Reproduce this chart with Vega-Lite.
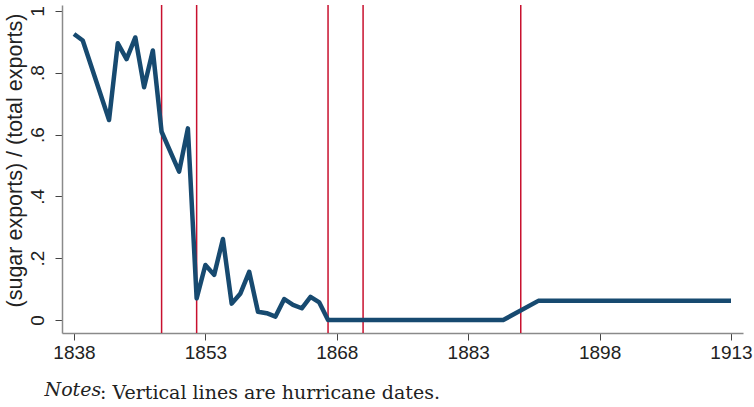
{
  "$schema": "https://vega.github.io/schema/vega-lite/v6.json",
  "width": 681,
  "height": 328,
  "autosize": "none",
  "padding": {"left": 62, "top": 5, "right": 11, "bottom": 74},
  "background": "white",
  "config": {"view": {"stroke": null}},
  "title": {
    "text": ": Vertical lines are hurricane dates.",
    "orient": "bottom",
    "anchor": "start",
    "frame": "group",
    "font": "DejaVu Serif",
    "fontSize": 19,
    "fontWeight": "normal",
    "color": "#222222",
    "baseline": "alphabetic",
    "offset": 0,
    "dx": 38
  },
  "datasets": {
    "series": [
      {"year": 1838, "share": 0.925},
      {"year": 1839, "share": 0.904},
      {"year": 1842, "share": 0.647},
      {"year": 1843, "share": 0.895},
      {"year": 1844, "share": 0.844},
      {"year": 1845, "share": 0.914},
      {"year": 1846, "share": 0.753},
      {"year": 1847, "share": 0.872},
      {"year": 1848, "share": 0.609},
      {"year": 1850, "share": 0.48},
      {"year": 1851, "share": 0.62},
      {"year": 1852, "share": 0.07},
      {"year": 1853, "share": 0.178},
      {"year": 1854, "share": 0.146},
      {"year": 1855, "share": 0.262},
      {"year": 1856, "share": 0.053},
      {"year": 1857, "share": 0.086},
      {"year": 1858, "share": 0.156},
      {"year": 1859, "share": 0.027},
      {"year": 1860, "share": 0.022},
      {"year": 1861, "share": 0.011},
      {"year": 1862, "share": 0.068},
      {"year": 1863, "share": 0.049},
      {"year": 1864, "share": 0.038},
      {"year": 1865, "share": 0.075},
      {"year": 1866, "share": 0.057},
      {"year": 1867, "share": 0},
      {"year": 1868, "share": 0},
      {"year": 1869, "share": 0},
      {"year": 1870, "share": 0},
      {"year": 1871, "share": 0},
      {"year": 1872, "share": 0},
      {"year": 1873, "share": 0},
      {"year": 1874, "share": 0},
      {"year": 1875, "share": 0},
      {"year": 1876, "share": 0},
      {"year": 1877, "share": 0},
      {"year": 1878, "share": 0},
      {"year": 1879, "share": 0},
      {"year": 1880, "share": 0},
      {"year": 1881, "share": 0},
      {"year": 1882, "share": 0},
      {"year": 1883, "share": 0},
      {"year": 1884, "share": 0},
      {"year": 1885, "share": 0},
      {"year": 1886, "share": 0},
      {"year": 1887, "share": 0},
      {"year": 1891, "share": 0.062},
      {"year": 1892, "share": 0.062},
      {"year": 1893, "share": 0.062},
      {"year": 1894, "share": 0.062},
      {"year": 1895, "share": 0.062},
      {"year": 1896, "share": 0.062},
      {"year": 1897, "share": 0.062},
      {"year": 1898, "share": 0.062},
      {"year": 1899, "share": 0.062},
      {"year": 1900, "share": 0.062},
      {"year": 1901, "share": 0.062},
      {"year": 1902, "share": 0.062},
      {"year": 1903, "share": 0.062},
      {"year": 1904, "share": 0.062},
      {"year": 1905, "share": 0.062},
      {"year": 1906, "share": 0.062},
      {"year": 1907, "share": 0.062},
      {"year": 1908, "share": 0.062},
      {"year": 1909, "share": 0.062},
      {"year": 1910, "share": 0.062},
      {"year": 1911, "share": 0.062},
      {"year": 1912, "share": 0.062},
      {"year": 1913, "share": 0.062}
    ],
    "hurricanes": [
      {"year": 1848},
      {"year": 1852},
      {"year": 1867},
      {"year": 1871},
      {"year": 1889}
    ]
  },
  "layer": [
    {
      "data": {"name": "hurricanes"},
      "mark": {"type": "rule", "color": "#c8102e", "strokeWidth": 1.5},
      "encoding": {
        "x": {"field": "year", "type": "quantitative", "scale": {"domain": [1836.63, 1914.37], "nice": false, "zero": false}}
      }
    },
    {
      "data": {"name": "series"},
      "mark": {"type": "line", "color": "#174a70", "strokeWidth": 4.5, "strokeJoin": "round", "strokeCap": "butt"},
      "encoding": {
        "x": {
          "field": "year",
          "type": "quantitative",
          "scale": {"domain": [1836.63, 1914.37], "nice": false, "zero": false},
          "axis": {
            "values": [1838, 1853, 1868, 1883, 1898, 1913],
            "format": "d",
            "grid": false,
            "domainColor": "#8a8a8a",
            "domainWidth": 1.5,
            "tickColor": "#444444",
            "tickSize": 7,
            "tickWidth": 1,
            "labelFont": "Liberation Sans",
            "labelFontSize": 19,
            "labelColor": "#222222",
            "labelPadding": 3,
            "labelFlush": false,
            "labelOverlap": false,
            "title": "Notes",
            "titleFont": "DejaVu Serif",
            "titleFontSize": 19,
            "titleFontStyle": "italic",
            "titleFontWeight": "normal",
            "titleColor": "#222222",
            "titleAlign": "left",
            "titleAnchor": "start",
            "titleBaseline": "alphabetic",
            "titleX": -18,
            "titleY": 62
          }
        },
        "y": {
          "field": "share",
          "type": "quantitative",
          "scale": {"domain": [-0.042, 1.019], "nice": false, "zero": false},
          "axis": {
            "values": [0, 0.2, 0.4, 0.6, 0.8, 1],
            "labelExpr": "datum.value == 0 ? '0' : datum.value == 1 ? '1' : replace(format(datum.value, '.1f'), '0.', '.')",
            "grid": false,
            "domainColor": "#8a8a8a",
            "domainWidth": 1.5,
            "tickColor": "#444444",
            "tickSize": 7,
            "tickWidth": 1,
            "labelFont": "Liberation Sans",
            "labelFontSize": 19,
            "labelColor": "#222222",
            "labelAngle": -90,
            "labelAlign": "center",
            "labelBaseline": "bottom",
            "labelPadding": 8,
            "labelFlush": false,
            "labelOverlap": false,
            "title": "(sugar exports) / (total exports)",
            "titleFont": "Liberation Sans",
            "titleFontSize": 21.5,
            "titleFontWeight": "normal",
            "titleColor": "#222222",
            "titlePadding": 2,
            "titleY": 155
          }
        }
      }
    }
  ]
}
